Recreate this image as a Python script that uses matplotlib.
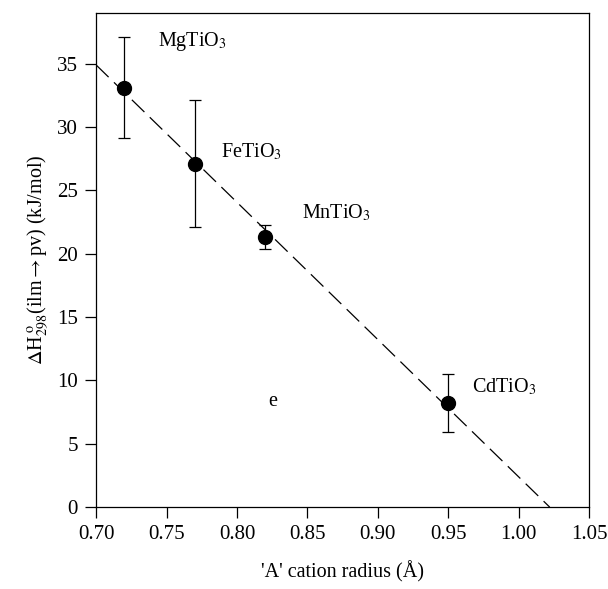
import matplotlib
matplotlib.use("Agg")
import matplotlib.pyplot as plt

plt.rcParams["font.family"] = ["Liberation Serif", "DejaVu Serif"]
plt.rcParams["mathtext.fontset"] = "stix"

# data
radius = [0.72, 0.77, 0.82, 0.95]
dH = [33.1, 27.1, 21.3, 8.2]
dH_err = [4.0, 5.0, 0.95, 2.3]
names = ["MgTiO$_3$", "FeTiO$_3$", "MnTiO$_3$", "CdTiO$_3$"]
label_x = [0.744, 0.789, 0.846, 0.967]
label_y = [36.4, 27.6, 22.8, 9.1]

fit_x = [0.70, 1.022]
fit_y = [34.9, 0.0]

fig = plt.figure(figsize=(6.08, 5.89), dpi=100)
ax = fig.add_axes([0.158, 0.139, 0.811, 0.839])

ax.plot(fit_x, fit_y, color="black", lw=0.9, dashes=(14, 6))
ax.errorbar(radius, dH, yerr=dH_err, fmt="o", color="black",
            ms=10, elinewidth=0.9, capsize=4.5, capthick=0.9)

for n, x, y in zip(names, label_x, label_y):
    ax.text(x, y, n, fontsize=14.5)
ax.text(0.822, 8.0, "e", fontsize=14.5)

ax.set_xlim(0.70, 1.05)
ax.set_ylim(0, 39)
ax.set_xticks([0.70, 0.75, 0.80, 0.85, 0.90, 0.95, 1.00, 1.05])
ax.set_xticklabels(["0.70", "0.75", "0.80", "0.85", "0.90", "0.95", "1.00", "1.05"])
ax.set_yticks([0, 5, 10, 15, 20, 25, 30, 35])
ax.tick_params(direction="out", length=8, labelsize=15, width=0.9, pad=5)
for s in ax.spines.values():
    s.set_linewidth(0.9)

ax.set_xlabel("'A' cation radius (Å)", fontsize=14.5, labelpad=12)
ax.set_ylabel(r"$\Delta$H$^{\rm\ o}_{\rm 298}$(ilm$\rightarrow$pv) (kJ/mol)", fontsize=14.5, labelpad=4)

fig.savefig("out.png", dpi=100)
